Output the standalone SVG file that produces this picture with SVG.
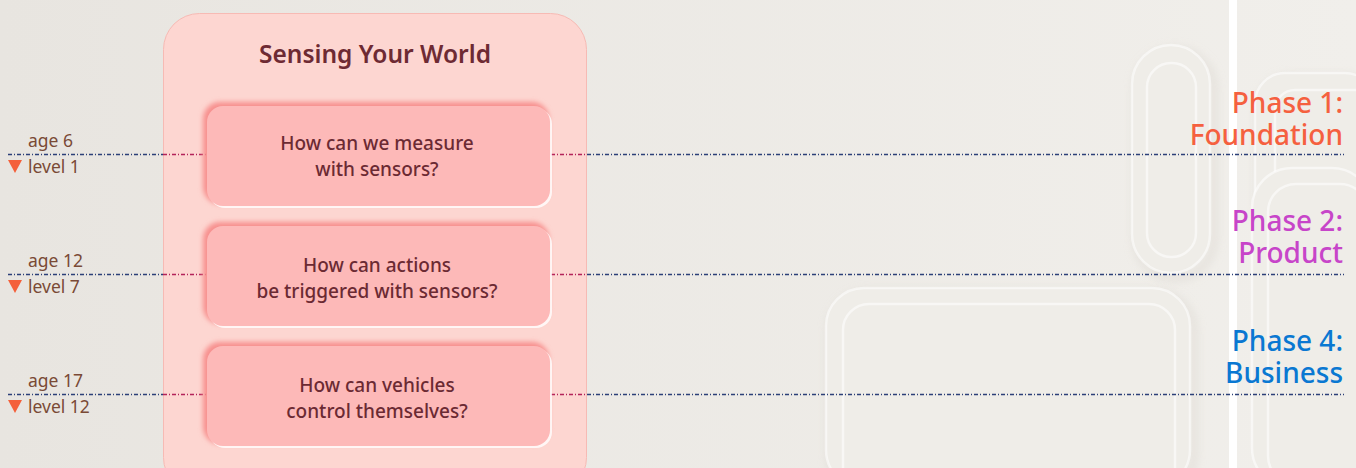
<svg xmlns="http://www.w3.org/2000/svg" width="1356" height="468" viewBox="0 0 1356 468">
<defs>
<linearGradient id="bg" x1="0" y1="0" x2="1" y2="0">
<stop offset="0" stop-color="#e8e5e0"/>
<stop offset="1" stop-color="#f1efeb"/>
</linearGradient>
<filter id="soft" x="-20%" y="-20%" width="140%" height="140%">
<feGaussianBlur stdDeviation="5"/>
</filter>
<filter id="glow" x="-10%" y="-20%" width="120%" height="140%">
<feGaussianBlur stdDeviation="2.5"/>
</filter>
<style>
.deco{fill:#efede8;stroke:#ffffff;stroke-width:2.5;stroke-opacity:.55}
.decoSh{fill:none;stroke:#dcd8d0;stroke-width:6;opacity:.7;filter:url(#soft)}
.node{fill:#fdb9b8}
.nodeSh{fill:#f7908e;filter:url(#glow)}
.nodeHi{fill:#ffffff;opacity:.8}
.ntext{font-family:"Noto Sans","Open Sans",sans-serif;font-size:19px;font-weight:500;fill:#6b2a33;text-anchor:middle}
.line{fill:none;stroke:#2c4078;stroke-width:1.4;stroke-dasharray:4 2 1 2}
.lineIn{fill:none;stroke:#b3235a;stroke-width:1.4;stroke-dasharray:4 2 1 2}
.lbl{font-family:"Noto Sans","Open Sans",sans-serif;font-size:17.5px;fill:#7a4a36}
.tri{fill:#f4603a}
.phase{font-family:"Noto Sans","Open Sans",sans-serif;font-size:28px;font-weight:500;text-anchor:end}
</style>
</defs>
<rect width="1356" height="468" fill="url(#bg)"/>
<g id="decorations">
<rect class="decoSh" x="1136" y="50" width="78" height="228" rx="39"/>
<rect class="deco" x="1132" y="45" width="78" height="228" rx="39"/>
<rect class="deco" x="1147" y="63" width="49" height="194" rx="24"/>
<rect class="decoSh" x="830" y="293" width="364" height="200" rx="38"/>
<rect class="deco" x="826" y="288" width="364" height="200" rx="38"/>
<rect class="deco" x="843" y="304" width="332" height="190" rx="26"/>
<rect class="decoSh" x="1259" y="78" width="120" height="160" rx="30"/>
<rect class="deco" x="1255" y="73" width="120" height="160" rx="30"/>
<rect class="deco" x="1275" y="90" width="100" height="140" rx="20"/>
<rect class="deco" x="1252" y="168" width="120" height="320" rx="40"/>
<rect class="deco" x="1268" y="184" width="100" height="300" rx="28"/>
<rect x="1229" y="0" width="8" height="468" fill="#ffffff"/>
</g>
<g id="container">
<rect x="163.5" y="13.5" width="423" height="480" rx="36" fill="#fdd6d1" stroke="#f7bab4" stroke-width="1"/>
<text x="375" y="63" text-anchor="middle" font-family="Noto Sans, Open Sans, sans-serif" font-size="24.5" font-weight="600" fill="#6e2a33">Sensing Your World</text>
</g>
<g id="connectors">
<line class="line" x1="8" y1="154.5" x2="163" y2="154.5"/>
<line class="lineIn" x1="163" y1="154.5" x2="207" y2="154.5"/>
<line class="lineIn" x1="551" y1="154.5" x2="587" y2="154.5"/>
<line class="line" x1="587" y1="154.5" x2="1344" y2="154.5"/>
<line class="line" x1="8" y1="274.5" x2="163" y2="274.5"/>
<line class="lineIn" x1="163" y1="274.5" x2="207" y2="274.5"/>
<line class="lineIn" x1="551" y1="274.5" x2="587" y2="274.5"/>
<line class="line" x1="587" y1="274.5" x2="1344" y2="274.5"/>
<line class="line" x1="8" y1="394.5" x2="163" y2="394.5"/>
<line class="lineIn" x1="163" y1="394.5" x2="207" y2="394.5"/>
<line class="lineIn" x1="551" y1="394.5" x2="587" y2="394.5"/>
<line class="line" x1="587" y1="394.5" x2="1344" y2="394.5"/>
</g>
<g id="node1">
<rect class="nodeSh" x="203" y="102" width="346" height="102" rx="17"/>
<rect class="nodeHi" x="209" y="108" width="343" height="100" rx="16"/>
<rect class="node" x="207" y="106" width="343" height="100" rx="16"/>
<text class="ntext" x="377" y="150">How can we measure</text>
<text class="ntext" x="377" y="176">with sensors?</text>
</g>
<g id="node2">
<rect class="nodeSh" x="203" y="222" width="346" height="102" rx="17"/>
<rect class="nodeHi" x="209" y="228" width="343" height="100" rx="16"/>
<rect class="node" x="207" y="226" width="343" height="100" rx="16"/>
<text class="ntext" x="377" y="272">How can actions</text>
<text class="ntext" x="377" y="298">be triggered with sensors?</text>
</g>
<g id="node3">
<rect class="nodeSh" x="203" y="342" width="346" height="102" rx="17"/>
<rect class="nodeHi" x="209" y="348" width="343" height="100" rx="16"/>
<rect class="node" x="207" y="346" width="343" height="100" rx="16"/>
<text class="ntext" x="377" y="392">How can vehicles</text>
<text class="ntext" x="377" y="418">control themselves?</text>
</g>
<g id="levels">
<text class="lbl" x="28" y="147">age 6</text>
<path class="tri" d="M8 160 H22 L15 173 Z"/>
<text class="lbl" x="28" y="173">level 1</text>
<text class="lbl" x="28" y="267">age 12</text>
<path class="tri" d="M8 280 H22 L15 293 Z"/>
<text class="lbl" x="28" y="293">level 7</text>
<text class="lbl" x="28" y="387">age 17</text>
<path class="tri" d="M8 400 H22 L15 413 Z"/>
<text class="lbl" x="28" y="413">level 12</text>
</g>
<g id="phases">
<text class="phase" x="1343" y="113" fill="#f5603f">Phase 1:</text>
<text class="phase" x="1343" y="145" fill="#f5603f">Foundation</text>
<text class="phase" x="1343" y="231" fill="#c745c9">Phase 2:</text>
<text class="phase" x="1343" y="263" fill="#c745c9">Product</text>
<text class="phase" x="1343" y="351" fill="#0a78d2">Phase 4:</text>
<text class="phase" x="1343" y="383" fill="#0a78d2">Business</text>
</g>
</svg>
